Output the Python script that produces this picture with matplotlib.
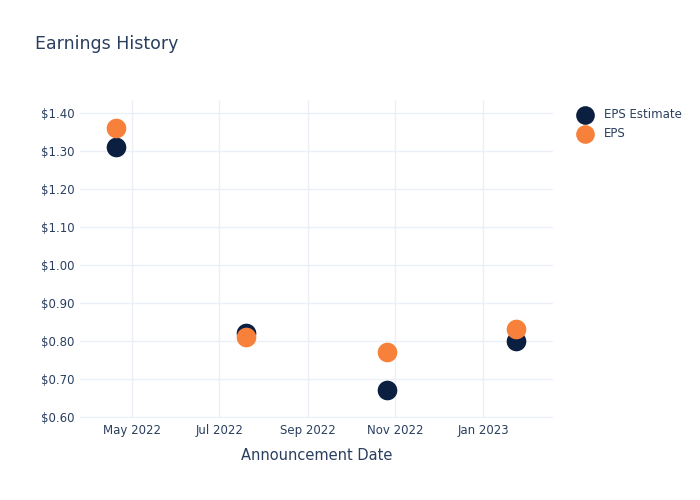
import matplotlib.pyplot as plt
import matplotlib.dates as mdates
import numpy as np

# Data
dates = np.array(["2022-04-20", "2022-07-20", "2022-10-26", "2023-01-24"], dtype="datetime64[D]")
eps_estimate = [1.31, 0.82, 0.67, 0.80]
eps_actual = [1.36, 0.81, 0.77, 0.83]

text_color = "#2a3f5f"
grid_color = "#ebf0f8"

fig = plt.figure(figsize=(7, 5), dpi=100)
ax = fig.add_axes([0.1143, 0.164, 0.676, 0.636])

ax.scatter(dates, eps_estimate, s=200, color="#0b1f40", label="EPS Estimate", zorder=3, linewidths=0)
ax.scatter(dates, eps_actual, s=200, color="#f7813a", label="EPS", zorder=4, linewidths=0)

ax.set_xlim(np.datetime64("2022-03-26"), np.datetime64("2023-02-19"))
ax.set_ylim(0.597, 1.434)
ax.set_yticks(np.arange(0.6, 1.41, 0.1))
ax.yaxis.set_major_formatter(plt.FuncFormatter(lambda v, p: f"${v:.2f}"))
ax.xaxis.set_major_locator(mdates.MonthLocator(bymonth=[1, 3, 5, 7, 9, 11]))
ax.xaxis.set_major_formatter(mdates.DateFormatter("%b %Y"))

ax.grid(True, color=grid_color, linewidth=1)
ax.set_axisbelow(True)
for s in ax.spines.values():
    s.set_visible(False)
ax.tick_params(length=0, colors=text_color, labelsize=8.5, pad=4)

ax.set_xlabel("Announcement Date", color=text_color, fontsize=10.5, labelpad=8)
fig.text(0.05, 0.912, "Earnings History", color=text_color, fontsize=12.5, va="center")

leg = ax.legend(loc="upper left", bbox_to_anchor=(1.02, 1.008), frameon=False,
                fontsize=8.5, labelcolor=text_color, handletextpad=0.6, markerscale=0.95)

plt.savefig("out.png")
